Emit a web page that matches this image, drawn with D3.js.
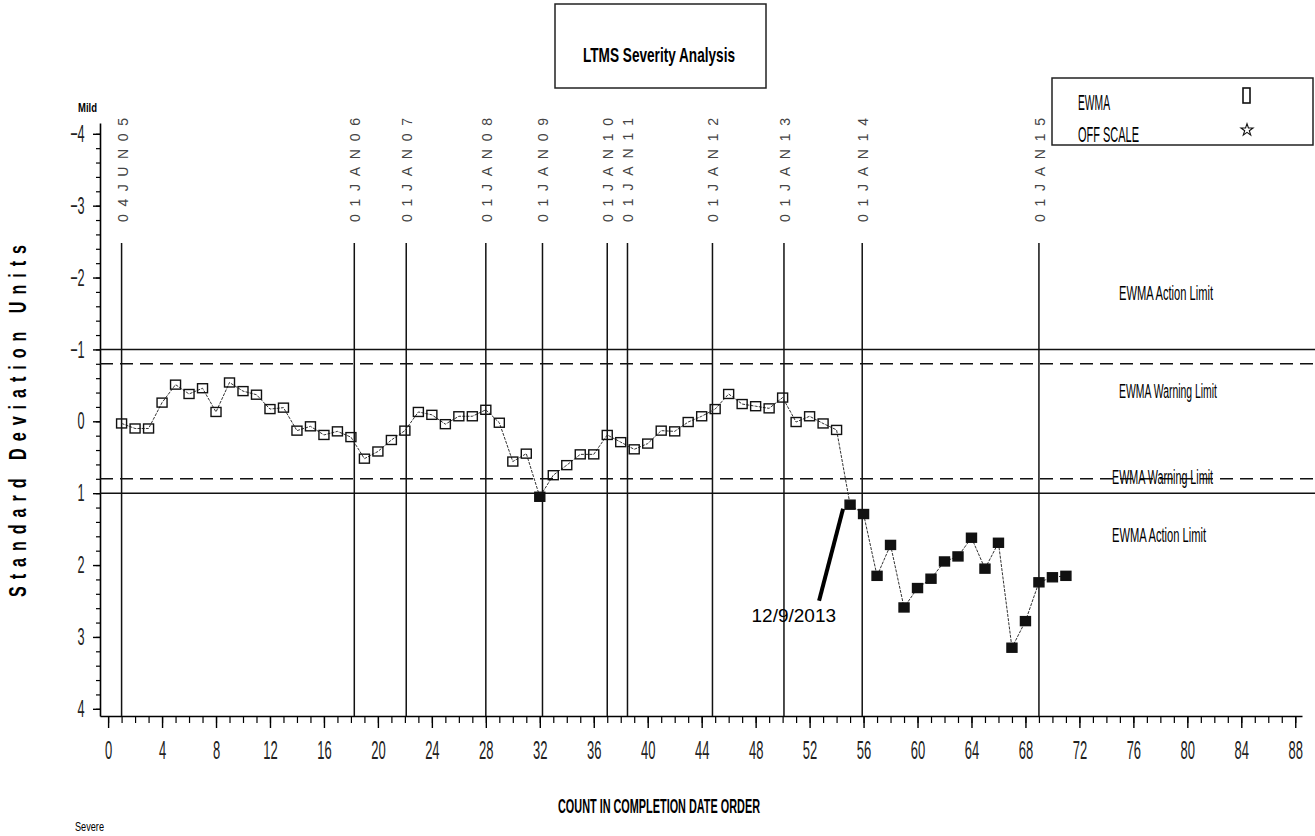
<!DOCTYPE html>
<html>
<head>
<meta charset="utf-8">
<script src="https://cdn.jsdelivr.net/npm/d3@7"></script>
<style>
  body { margin: 0; background: #fff; }
  svg { display: block; font-family: 'Liberation Sans', Arial, sans-serif; }
</style>
</head>
<body>
<div id="chart"></div>
<script>
var svgWidth = 1315;
var svgHeight = 836;

// run order (count in completion date order)
var counts = [1, 2, 3, 4, 5, 6, 7, 8, 9, 10, 11, 12, 13, 14, 15, 16, 17, 18, 19, 20,
  21, 22, 23, 24, 25, 26, 27, 28, 29, 30, 31, 32, 33, 34, 35, 36, 37, 38, 39, 40,
  41, 42, 43, 44, 45, 46, 47, 48, 49, 50, 51, 52, 53, 54, 55, 56, 57, 58, 59, 60,
  61, 62, 63, 64, 65, 66, 67, 68, 69, 70, 71];

// EWMA in standard deviation units (negative = mild)
var ewma = [0.03, 0.10, 0.10, -0.26, -0.51, -0.38, -0.46, -0.13, -0.54, -0.42,
  -0.37, -0.17, -0.19, 0.13, 0.07, 0.19, 0.14, 0.22, 0.52, 0.42,
  0.26, 0.13, -0.13, -0.09, 0.04, -0.07, -0.07, -0.16, 0.02, 0.56,
  0.45, 1.05, 0.75, 0.61, 0.46, 0.46, 0.19, 0.29, 0.39, 0.31,
  0.13, 0.14, 0.01, -0.07, -0.17, -0.38, -0.24, -0.21, -0.18, -0.33,
  0.01, -0.07, 0.03, 0.12, 1.16, 1.29, 2.15, 1.72, 2.59, 2.32,
  2.19, 1.95, 1.88, 1.62, 2.05, 1.69, 3.15, 2.78, 2.24, 2.17, 2.15];

// reference date markers
var dateLabels = ['04JUN05', '01JAN06', '01JAN07', '01JAN08', '01JAN09', '01JAN10',
  '01JAN11', '01JAN12', '01JAN13', '01JAN14', '01JAN15'];
var dateCounts = [1, 18.25, 22.1, 28, 32.2, 37, 38.5, 44.8, 50.1, 55.9, 69];

// limits
var limitValues = [-1, -0.8, 0.8, 1];
var limitNames = ['EWMA Action Limit', 'EWMA Warning Limit', 'EWMA Warning Limit', 'EWMA Action Limit'];
var limitDashed = [false, true, true, false];

var yTicks = [-4, -3, -2, -1, 0, 1, 2, 3, 4];
var xTicks = [0, 4, 8, 12, 16, 20, 24, 28, 32, 36, 40, 44, 48, 52, 56, 60, 64, 68, 72, 76, 80, 84, 88];

var legendLabels = ['EWMA', 'OFF SCALE'];

var annotation = { count: 55, value: 1.16, label: '12/9/2013' };

var data = counts.map((c, i) => ({ count: c, value: ewma[i] }));

var svg = d3.select('#chart').append('svg')
    .attr('width', svgWidth)
    .attr('height', svgHeight)

var xScale = d3.scaleLinear()
    .domain([-0.6, 88.5])
    .range([100, 1302])

var yScale = d3.scaleLinear()
    .domain([-4.15, 4.1])
    .range([123, 716])

var x0 = xScale.range()[0];
var yBottom = yScale.range()[1];

// title box
svg.append('rect')
    .attr('x', 555).attr('y', 4).attr('width', 211).attr('height', 84)
    .attr('fill', 'none').attr('stroke', '#222').attr('stroke-width', 1.5)
svg.append('text')
    .attr('x', 583).attr('y', 62)
    .attr('textLength', 152).attr('lengthAdjust', 'spacingAndGlyphs')
    .style('font-size', '21px').style('font-weight', 'bold')
    .text('LTMS Severity Analysis')

// legend
svg.append('rect')
    .attr('x', 1052).attr('y', 78).attr('width', 261).attr('height', 67)
    .attr('fill', 'none').attr('stroke', '#222').attr('stroke-width', 1.5)
svg.selectAll('.legend-label')
    .data(legendLabels)
    .enter()
    .append('text')
    .classed('legend-label', true)
    .attr('x', 1078)
    .attr('y', (d, i) => 110 + i * 32)
    .attr('textLength', d => d === 'EWMA' ? 32 : 61)
    .attr('lengthAdjust', 'spacingAndGlyphs')
    .style('font-size', '22px')
    .text(d => d)
svg.append('rect')
    .attr('x', 1243).attr('y', 88).attr('width', 7).attr('height', 15)
    .attr('fill', 'none').attr('stroke', '#111').attr('stroke-width', 1.6)
svg.append('path')
    .attr('transform', 'translate(1247,130)')
    .attr('d', d3.symbol().type(d3.symbolStar).size(45)())
    .attr('fill', 'none').attr('stroke', '#111').attr('stroke-width', 1.1)

// axes
var yAxis = svg.append('g')
    .attr('transform', `translate(${x0},0)`)
    .call(d3.axisLeft(yScale).tickValues(yTicks).tickSize(7).tickSizeOuter(0)
        .tickFormat(d => d < 0 ? '\u2212' + Math.abs(d) : d))
yAxis.select('.domain').attr('stroke-width', 1.6)
yAxis.selectAll('.tick line').attr('stroke-width', 1.4)
yAxis.selectAll('text')
    .attr('x', -29)
    .attr('transform', 'scale(0.53,1)')
    .style('font-size', '24px')
    .attr('fill', '#222')

var yMinor = svg.append('g')
    .attr('transform', `translate(${x0},0)`)
    .call(d3.axisLeft(yScale).tickValues(d3.range(-40, 41, 2).map(d => d / 10)).tickSize(4).tickFormat(''))
yMinor.select('.domain').remove()
yMinor.selectAll('.tick line').attr('stroke-width', 1.2)

var xAxis = svg.append('g')
    .attr('transform', `translate(0,${yBottom})`)
    .call(d3.axisBottom(xScale).tickValues(xTicks).tickSize(12).tickSizeOuter(0).tickPadding(13))
xAxis.select('.domain').attr('stroke-width', 1.6)
xAxis.selectAll('.tick line').attr('stroke-width', 1.4)
xAxis.selectAll('text')
    .attr('transform', 'scale(0.52,1)')
    .style('font-size', '25px')
    .attr('fill', '#222')

var xMinor = svg.append('g')
    .attr('transform', `translate(0,${yBottom})`)
    .call(d3.axisBottom(xScale).tickValues(d3.range(0, 89)).tickSize(7).tickFormat(''))
xMinor.select('.domain').remove()
xMinor.selectAll('.tick line').attr('stroke-width', 1.2)

// axis titles
svg.append('text')
    .attr('transform', 'translate(26,597) rotate(-90) scale(0.7,1)')
    .attr('textLength', 352 / 0.7).attr('lengthAdjust', 'spacing')
    .style('font-size', '23px').style('font-weight', 'bold')
    .text('Standard Deviation Units')

svg.append('text')
    .attr('x', 558).attr('y', 813)
    .attr('textLength', 202).attr('lengthAdjust', 'spacingAndGlyphs')
    .style('font-size', '20px').style('font-weight', 'bold')
    .text('COUNT IN COMPLETION DATE ORDER')

svg.append('text')
    .attr('x', 78).attr('y', 112)
    .attr('textLength', 19).attr('lengthAdjust', 'spacingAndGlyphs')
    .style('font-size', '13px').style('font-weight', 'bold')
    .text('Mild')

svg.append('text')
    .attr('x', 75).attr('y', 831)
    .attr('textLength', 29).attr('lengthAdjust', 'spacingAndGlyphs')
    .style('font-size', '13px')
    .text('Severe')

// limit lines
svg.selectAll('.limit')
    .data(limitValues)
    .enter()
    .append('line')
    .classed('limit', true)
    .attr('x1', x0).attr('x2', svgWidth)
    .attr('y1', d => yScale(d)).attr('y2', d => yScale(d))
    .attr('stroke', '#111').attr('stroke-width', 1.5)
    .attr('stroke-dasharray', (d, i) => limitDashed[i] ? '13,7' : null)

var limitLabelY = [300, 398, 484, 542];
svg.selectAll('.limit-label')
    .data(limitNames)
    .enter()
    .append('text')
    .classed('limit-label', true)
    .attr('x', (d, i) => i < 2 ? 1119 : 1112)
    .attr('y', (d, i) => limitLabelY[i])
    .attr('textLength', (d, i) => i === 1 ? 98 : (i === 2 ? 101 : 94))
    .attr('lengthAdjust', 'spacingAndGlyphs')
    .style('font-size', '20px')
    .text(d => d)

// date marker lines + labels
svg.selectAll('.date-line')
    .data(dateCounts)
    .enter()
    .append('line')
    .classed('date-line', true)
    .attr('x1', d => xScale(d)).attr('x2', d => xScale(d))
    .attr('y1', 243).attr('y2', yBottom)
    .attr('stroke', '#111').attr('stroke-width', 1.5)

svg.selectAll('.date-label')
    .data(dateLabels)
    .enter()
    .append('text')
    .classed('date-label', true)
    .attr('transform', (d, i) => `translate(${xScale(dateCounts[i]) + 6},222) rotate(-90)`)
    .attr('textLength', 104).attr('lengthAdjust', 'spacing')
    .style('font-size', '14px')
    .attr('fill', '#444')
    .text(d => d)

// EWMA line and points
var line = d3.line()
    .x(d => xScale(d.count))
    .y(d => yScale(d.value))

svg.append('path')
    .datum(data)
    .attr('d', line)
    .attr('fill', 'none')
    .attr('stroke', '#333')
    .attr('stroke-width', 1)
    .attr('stroke-dasharray', '3,1.2')

var sq = 10;
svg.selectAll('.pt')
    .data(data)
    .enter()
    .append('rect')
    .classed('pt', true)
    .attr('x', d => xScale(d.count) - sq / 2)
    .attr('y', d => yScale(d.value) - sq / 2 + 0.5)
    .attr('width', sq).attr('height', sq - 1)
    .attr('fill', d => d.value > 1 ? '#111' : 'none')
    .attr('stroke', '#111')
    .attr('stroke-width', 1.4)

// hand annotation
var ax = xScale(annotation.count);
var ay = yScale(annotation.value);
svg.append('line')
    .attr('x1', ax - 31).attr('y1', ay + 96)
    .attr('x2', ax - 7).attr('y2', ay + 4)
    .attr('stroke', '#000').attr('stroke-width', 4)
svg.append('text')
    .attr('x', ax - 14).attr('y', ay + 117)
    .attr('text-anchor', 'end')
    .style('font-size', '19px')
    .text(annotation.label)
</script>
</body>
</html>
